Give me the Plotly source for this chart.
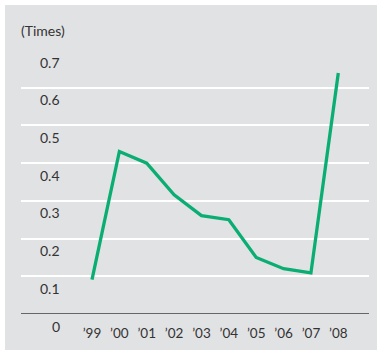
import plotly.graph_objects as go

# Debt-to-equity style ratio, fiscal years 1999-2008
years = ["’99", "’00", "’01", "’02", "’03", "’04", "’05", "’06", "’07", "’08"]
ratio = [0.091, 0.431, 0.400, 0.316, 0.261, 0.250, 0.150, 0.120, 0.109, 0.639]
y_ticks = [0.0, 0.1, 0.2, 0.3, 0.4, 0.5, 0.6, 0.7]
y_tick_labels = ["0", "0.1", "0.2", "0.3", "0.4", "0.5", "0.6", "0.7"]
unit_label = "(Times)"

W, H = 377, 350
ML, MR, MT, MB = 21, 8, 50, 36
PW, PH = W - ML - MR, H - MT - MB

FONT = "Lato, 'Open Sans', sans-serif"
TEXT = "#333333"
PANEL = "#E1E2E4"
GREEN = "#0AAE72"

idx = list(range(len(years)))

fig = go.Figure()
fig.add_trace(go.Scatter(
    x=idx, y=ratio, mode="lines",
    line=dict(color=GREEN, width=3.3),
    hoverinfo="skip", showlegend=False,
))

def px_to_paper_x(px):
    return (px - ML) / PW

def px_to_paper_y(py):
    return (H - MB - py) / PH

shapes = [
    # grey panel behind the chart, leaving a thin white edge top/left
    dict(type="rect", xref="paper", yref="paper", layer="below",
         x0=px_to_paper_x(5), x1=px_to_paper_x(W + 2),
         y0=px_to_paper_y(H + 2), y1=px_to_paper_y(5),
         fillcolor=PANEL, line=dict(width=0)),
    # baseline at zero
    dict(type="line", xref="paper", yref="y", x0=0, x1=1, y0=0, y1=0,
         line=dict(color="#3c3c3c", width=1.5), layer="above"),
]

annotations = [
    dict(text=unit_label, xref="paper", yref="paper",
         x=px_to_paper_x(19), y=px_to_paper_y(30),
         xanchor="left", yanchor="middle", showarrow=False,
         font=dict(family=FONT, size=14, color=TEXT)),
]
for v, lab in zip(y_ticks, y_tick_labels):
    annotations.append(dict(
        text=lab, xref="paper", yref="y", x=px_to_paper_x(62), y=v,
        xanchor="right", yanchor="middle", yshift=-12, showarrow=False,
        font=dict(family=FONT, size=14, color=TEXT)))

# index 0 -> 92px, index 9 -> 338px
step = (338.3 - 92) / 9
x0 = -(92 - ML) / step
x1 = x0 + PW / step

fig.update_layout(
    width=W, height=H,
    margin=dict(l=ML, r=MR, t=MT, b=MB),
    paper_bgcolor="white", plot_bgcolor="rgba(0,0,0,0)",
    shapes=shapes, annotations=annotations,
    xaxis=dict(range=[x0, x1], tickvals=idx, ticktext=years,
               showgrid=False, zeroline=False, showline=False,
               ticks="outside", ticklen=7, tickcolor="rgba(0,0,0,0)",
               tickfont=dict(family=FONT, size=13.5, color=TEXT),
               fixedrange=True),
    yaxis=dict(range=[0, 0.7], tickvals=y_ticks[1:], showticklabels=False,
               showgrid=True, gridcolor="white", gridwidth=2,
               zeroline=False, showline=False, fixedrange=True),
)

fig.write_html("out.html")
